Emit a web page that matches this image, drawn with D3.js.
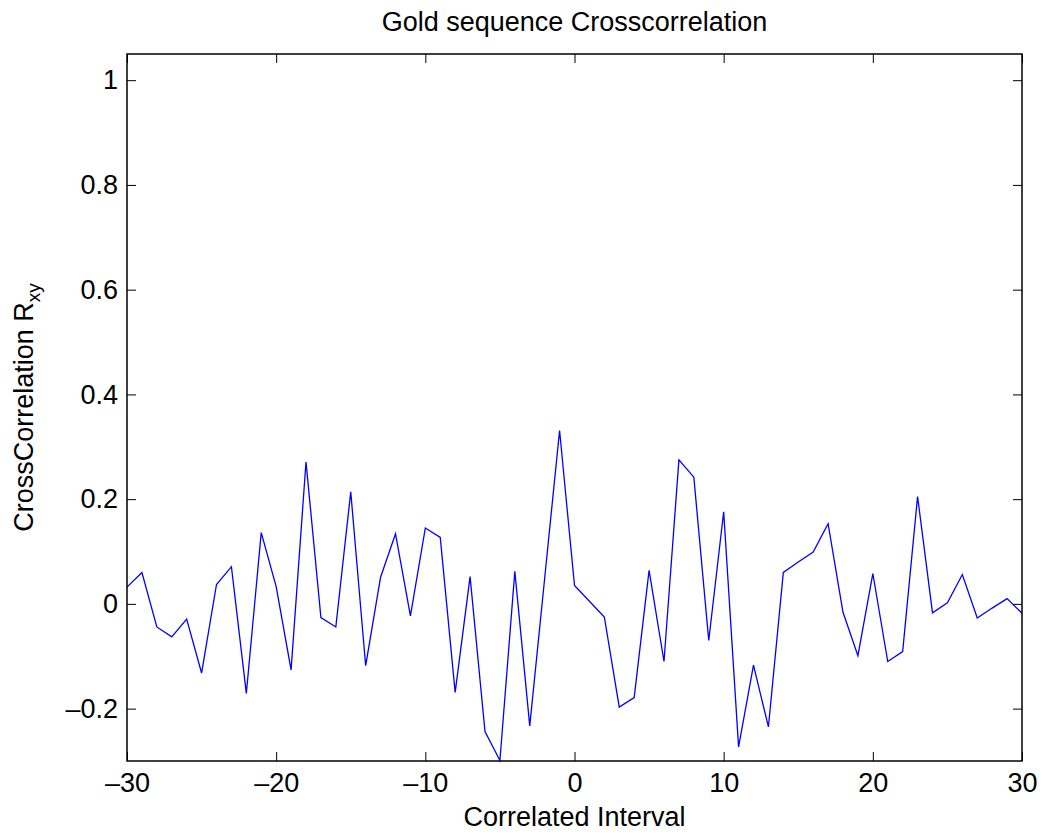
<!DOCTYPE html>
<meta charset="utf-8">
<script src="https://d3js.org/d3.v7.min.js"></script>
<style>
  body { margin: 0; background: #fff; }
  text { font-family: "Liberation Sans", Arial, Helvetica, sans-serif; fill: #000; }
</style>
<body>
<div id="chart"></div>
<script>

// lag values (correlated interval)
var lags = d3.range(-30, 31);

// cross-correlation values
var rxy = [
  0.032, 0.060, -0.044, -0.063, -0.029, -0.132, 0.037, 0.071, -0.171, 0.136,
  0.033, -0.126, 0.271, -0.026, -0.044, 0.214, -0.118, 0.051, 0.134, -0.023,
  0.145, 0.127, -0.169, 0.052, -0.244, -0.299, 0.062, -0.233, 0.049, 0.331,
  0.035, 0.005, -0.025, -0.197, -0.179, 0.064, -0.110, 0.275, 0.242, -0.070,
  0.176, -0.273, -0.117, -0.235, 0.060, 0.080, 0.099, 0.153, -0.016, -0.099,
  0.058, -0.110, -0.091, 0.205, -0.017, 0.002, 0.056, -0.027, -0.008, 0.010,
  -0.018
];

var xTicks = [-30, -20, -10, 0, 10, 20, 30];
var yTicks = [-0.2, 0, 0.2, 0.4, 0.6, 0.8, 1];

var margin = {top: 54, right: 23, bottom: 77, left: 127},
    width = 1045 - margin.left - margin.right,
    height = 838 - margin.top - margin.bottom;

var svg = d3.select("#chart")
  .append("svg")
  .attr("width", 1045)
  .attr("height", 838)
  .append("g")
  .attr("transform", "translate(" + margin.left + "," + margin.top + ")");

var x = d3.scaleLinear().domain([-30, 30]).range([0, width]);
var y = d3.scaleLinear().domain([-0.3, 1.05]).range([height, 0]);

function fmt(d) {
  return (d < 0 ? "\u2013" : "") + d3.format("")(Math.abs(d));
}

// bottom axis with inward ticks
svg.append("g")
  .attr("transform", "translate(0," + height + ")")
  .call(d3.axisBottom(x).tickValues(xTicks).tickSize(-9).tickPadding(12).tickFormat(fmt))
  .call(function(g) { g.select(".domain").remove(); })
  .selectAll("text")
  .style("font-size", "27px");

// top ticks
svg.append("g")
  .call(d3.axisTop(x).tickValues(xTicks).tickSize(-9).tickFormat(""))
  .call(function(g) { g.select(".domain").remove(); });

// left axis
svg.append("g")
  .call(d3.axisLeft(y).tickValues(yTicks).tickSize(-9).tickPadding(9).tickFormat(fmt))
  .call(function(g) { g.select(".domain").remove(); })
  .selectAll("text")
  .style("font-size", "27px");

// right ticks
svg.append("g")
  .attr("transform", "translate(" + width + ",0)")
  .call(d3.axisRight(y).tickValues(yTicks).tickSize(-9).tickFormat(""))
  .call(function(g) { g.select(".domain").remove(); });

svg.selectAll(".tick line").attr("stroke", "#000").attr("stroke-width", 1);

// the line
var line = d3.line()
  .x(function(d, i) { return x(lags[i]); })
  .y(function(d) { return y(d); });

svg.append("path")
  .datum(rxy)
  .attr("fill", "none")
  .attr("stroke", "#0000ff")
  .attr("stroke-width", 1.3)
  .attr("d", line);

// box
svg.append("rect")
  .attr("width", width)
  .attr("height", height)
  .attr("fill", "none")
  .attr("stroke", "#000")
  .attr("stroke-width", 1.5);

// title
svg.append("text")
  .attr("x", width / 2)
  .attr("y", -23)
  .attr("text-anchor", "middle")
  .style("font-size", "27px")
  .text("Gold sequence Crosscorrelation");

// x label
svg.append("text")
  .attr("x", width / 2)
  .attr("y", height + 65)
  .attr("text-anchor", "middle")
  .style("font-size", "27px")
  .text("Correlated Interval");

// y label
var yl = svg.append("text")
  .attr("transform", "translate(-94," + (height / 2) + ") rotate(-90)")
  .attr("text-anchor", "middle")
  .style("font-size", "27px");
yl.append("tspan").text("CrossCorrelation R");
yl.append("tspan").attr("dy", 7).style("font-size", "19px").text("xy");

</script>
</body>
